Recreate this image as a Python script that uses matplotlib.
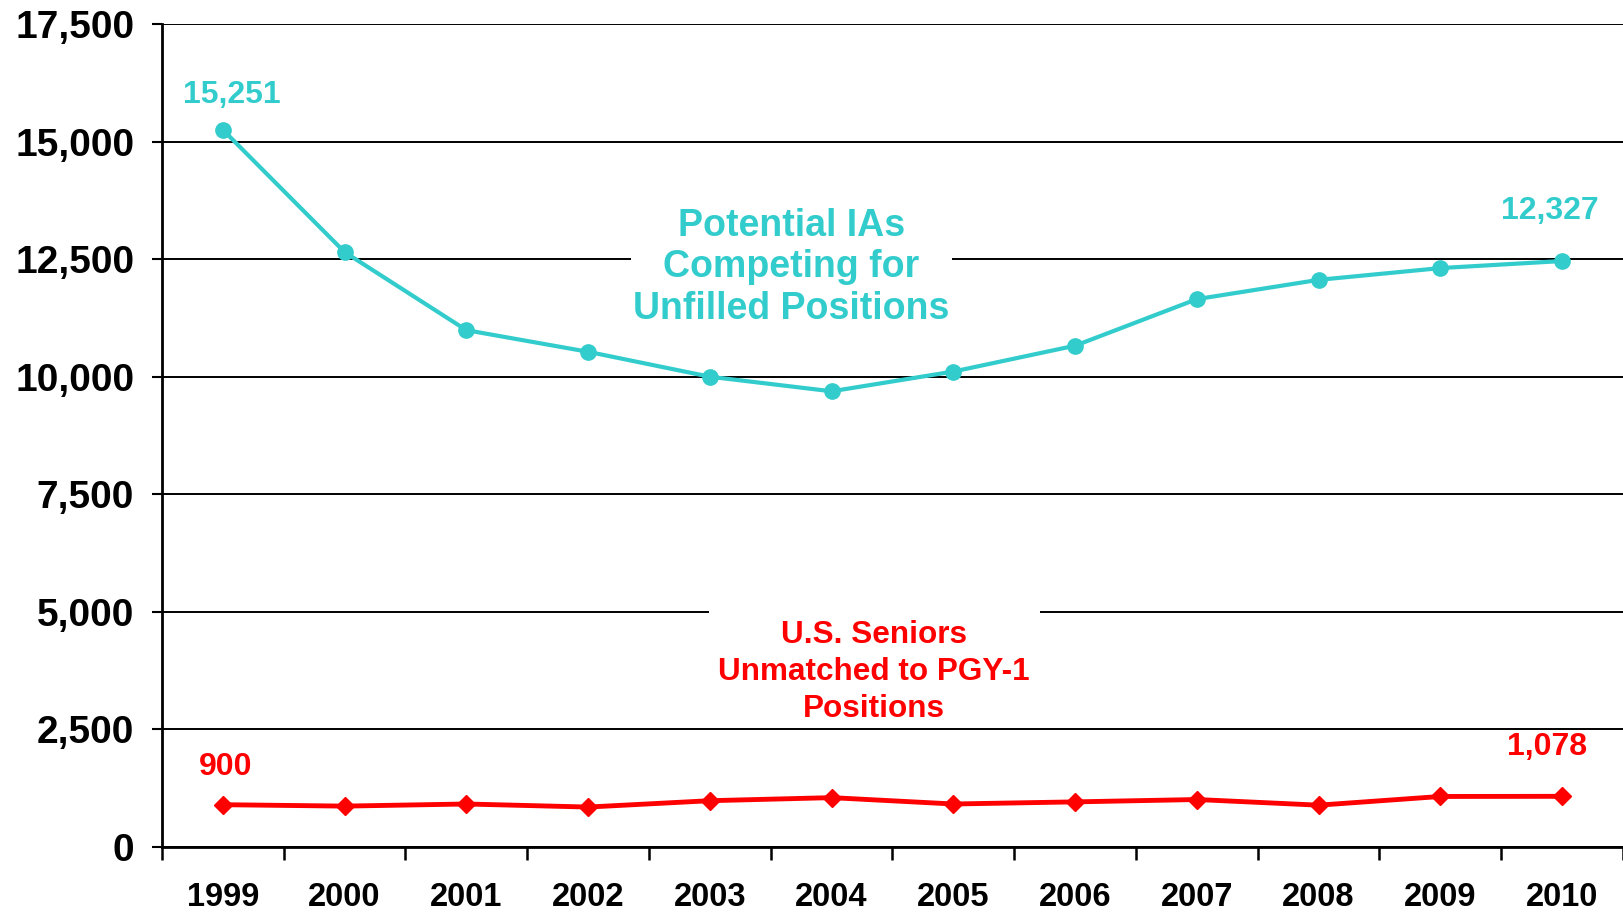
import numpy as np
import matplotlib
matplotlib.use('Agg')
import matplotlib.pyplot as plt
from matplotlib.ticker import FuncFormatter
from matplotlib.patches import Rectangle

plt.rcParams['font.family'] = ['Liberation Sans', 'DejaVu Sans']
plt.rcParams['font.weight'] = 'bold'

years = ['1999', '2000', '2001', '2002', '2003', '2004',
         '2005', '2006', '2007', '2008', '2009', '2010']
# potential IAs competing for unfilled positions
ias = [15251, 12650, 10990, 10530, 10000, 9690, 10110, 10660, 11650, 12060, 12310, 12460]
# U.S. seniors unmatched to PGY-1 positions
seniors = [900, 870, 915, 850, 985, 1050, 915, 960, 1010, 890, 1075, 1078]

cyan = '#33CCCC'
red = '#FF0000'

fig = plt.figure(figsize=(16.23, 9.16), dpi=100)
ax = fig.add_axes([0.0998, 0.0753, 0.9002, 0.8985])

x = np.arange(len(years))
ax.plot(x, ias, '-o', color=cyan, lw=3, ms=11, zorder=4, clip_on=False)
ax.plot(x, seniors, '-D', color=red, lw=3.5, ms=9, zorder=4, clip_on=False)

ax.set_xlim(-0.5, len(years) - 0.5)
ax.set_ylim(0, 17500)
ax.set_yticks(np.arange(0, 17501, 2500))
ax.yaxis.set_major_formatter(FuncFormatter(lambda v, p: '{:,.0f}'.format(v)))
ax.grid(axis='y', color='black', lw=1.4, zorder=1)

ax.set_xticks(x)
ax.set_xticklabels(years)
ax.set_xticks(np.arange(-0.5, len(years), 1.0), minor=True)
ax.tick_params(axis='x', which='major', length=0, pad=25, labelsize=23.5)
ax.tick_params(axis='x', which='minor', length=9, width=1.8, direction='out')
ax.tick_params(axis='y', length=7, width=1.5, pad=13, labelsize=28)

for s in ['top', 'right']:
    ax.spines[s].set_visible(False)
ax.spines['left'].set_linewidth(2)
ax.spines['bottom'].set_linewidth(2)

# end-point value labels
ax.text(0.07, 15980, '15,251', color=cyan, fontsize=23, ha='center', va='center')
ax.text(10.9, 13520, '12,327', color=cyan, fontsize=23, ha='center', va='center')
ax.text(0.02, 1700, '900', color=red, fontsize=23, ha='center', va='center')
ax.text(10.88, 2130, '1,078', color=red, fontsize=23, ha='center', va='center')

# series captions
ax.text(4.67, 12330, 'Potential IAs\nCompeting for\nUnfilled Positions', color=cyan,
        fontsize=27, ha='center', va='center', linespacing=1.2, zorder=3,
        bbox=dict(facecolor='white', edgecolor='none', pad=2))
# white mask behind the red caption (only breaks the 5,000 line)
ax.add_patch(Rectangle((3.99, 4700), 2.72, 600, facecolor='white',
                       edgecolor='none', zorder=2))
ax.text(5.35, 3720, 'U.S. Seniors\nUnmatched to PGY-1\nPositions', color=red,
        fontsize=22.7, ha='center', va='center', linespacing=1.31, zorder=3)

plt.savefig('out.png', dpi=100)
